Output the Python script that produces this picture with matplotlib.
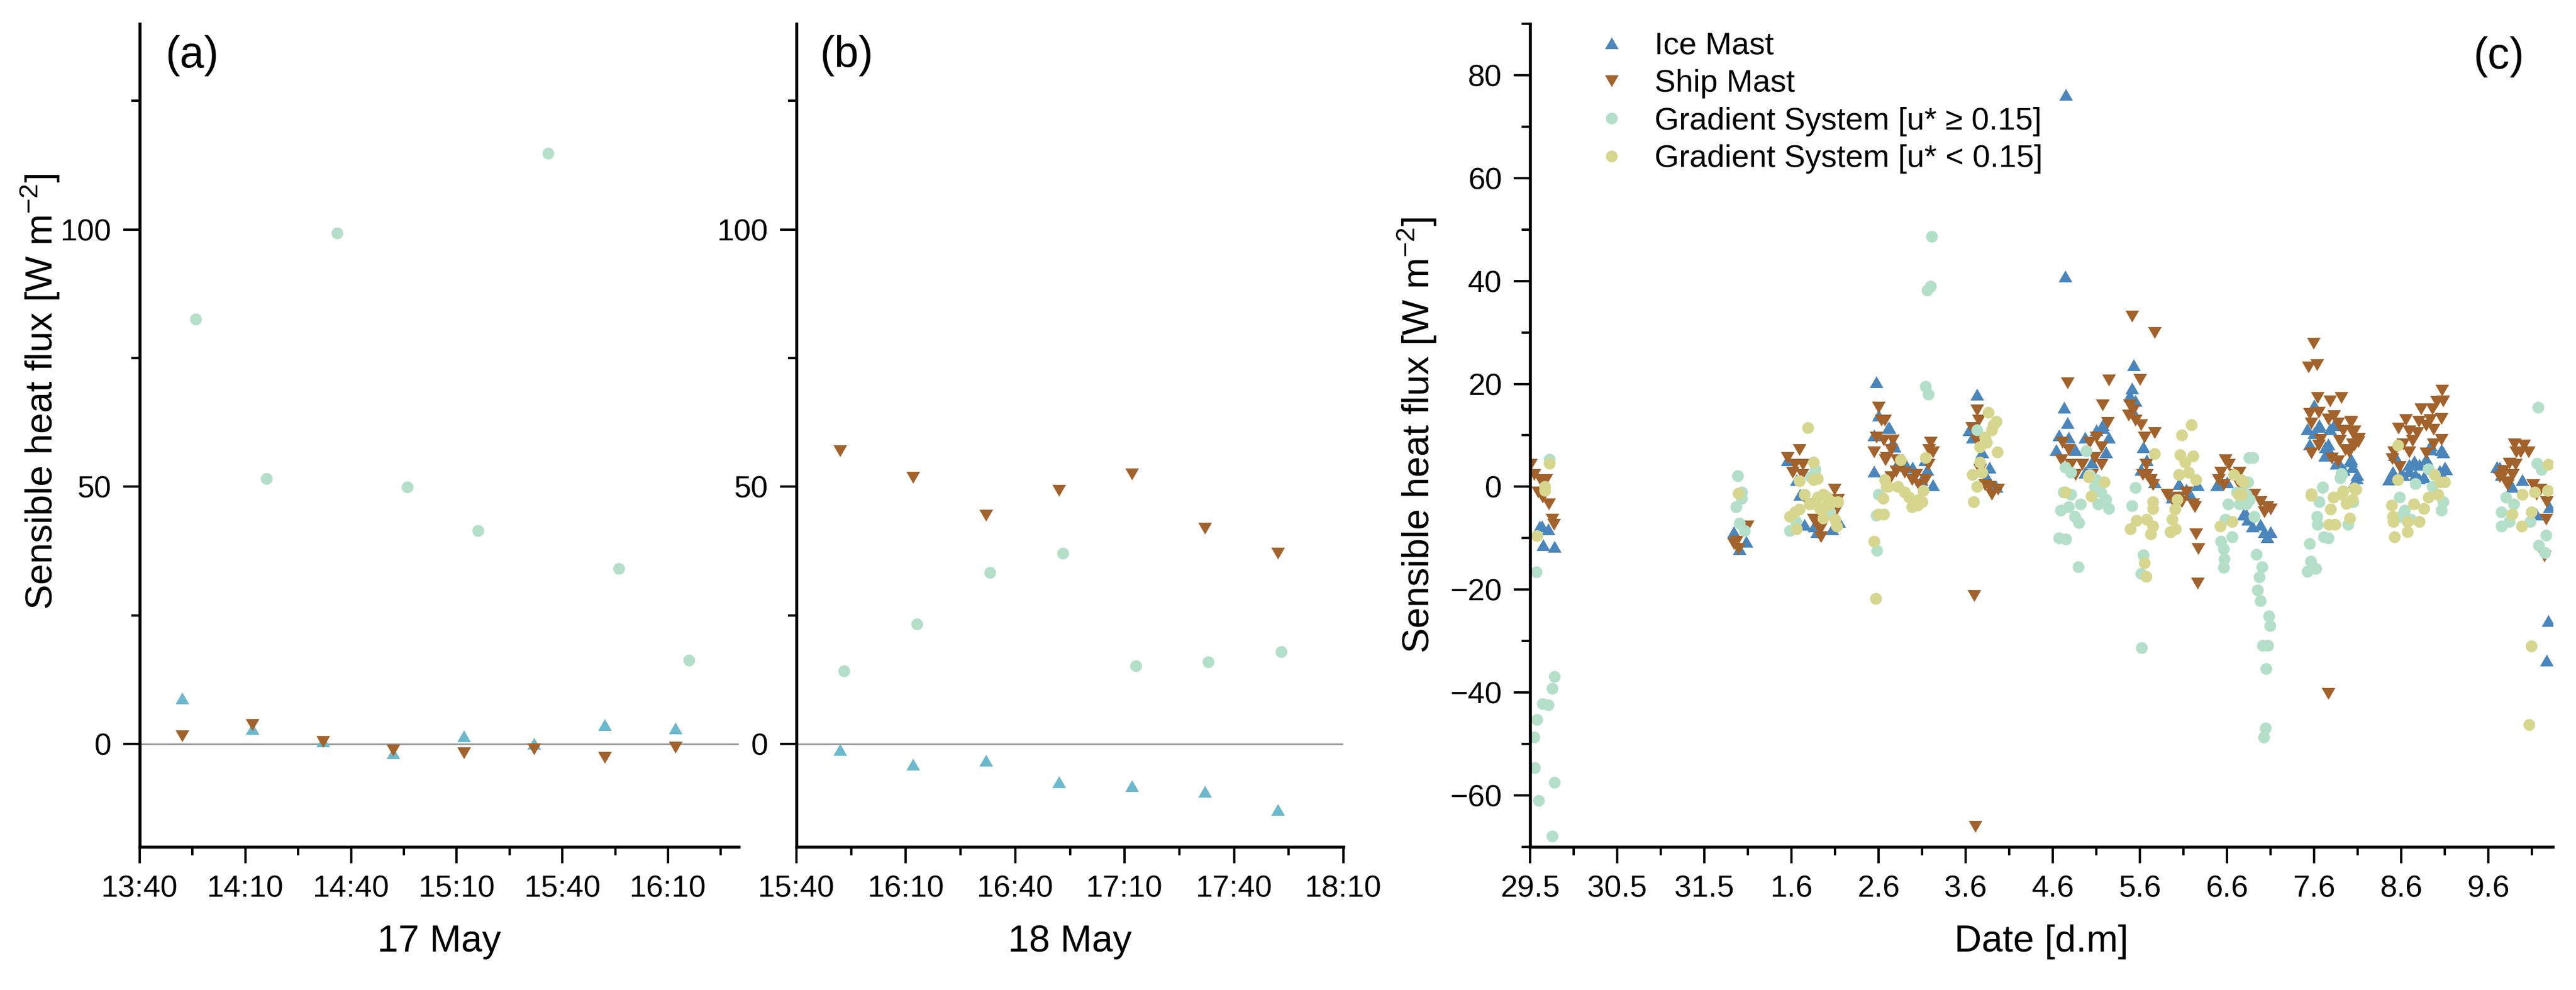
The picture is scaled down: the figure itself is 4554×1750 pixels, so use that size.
import matplotlib
matplotlib.use("Agg")
import matplotlib.pyplot as plt
import matplotlib.dates as mdates
from matplotlib.path import Path
from matplotlib.ticker import MultipleLocator, FixedLocator
from datetime import datetime

plt.rcParams['font.family'] = ['Liberation Sans', 'DejaVu Sans']
plt.rcParams['mathtext.fontset'] = 'custom'
plt.rcParams['mathtext.rm'] = 'Liberation Sans'
plt.rcParams['mathtext.default'] = 'regular'

# (a) 17 May
a_mast_time = ["13:52", "14:12", "14:32", "14:52", "15:12", "15:32", "15:52", "16:12"]
a_ice = [8.9, 3.0, 0.6, -1.8, 1.6, 0.1, 3.8, 3.1]
a_ship = [1.5, 3.7, 0.4, -1.2, -1.8, -1.0, -2.6, -0.7]
a_grad_time = ["13:56", "14:16", "14:36", "14:56", "15:16", "15:36", "15:56", "16:16"]
a_grad = [82.6, 51.6, 99.3, 49.9, 41.5, 114.8, 34.1, 16.3]

# (b) 18 May
b_mast_time = ["15:52", "16:12", "16:32", "16:52", "17:12", "17:32", "17:52"]
b_ice = [-1.1, -4.0, -3.2, -7.4, -8.1, -9.2, -12.7]
b_ship = [57.0, 51.8, 44.4, 49.3, 52.5, 41.9, 37.1]
b_grad_time = ["15:53", "16:13", "16:33", "16:53", "17:13", "17:33", "17:53"]
b_grad = [14.2, 23.3, 33.3, 37.1, 15.2, 15.9, 17.9]

# (c) days since 29 May 00:00, flux
c_ice = [(0.11, -7.7), (0.135, -7.7), (0.21, -8.2), (0.15, -11.3), (0.28, -11.6),
         (2.34, -8.7), (2.48, -10.6), (2.40, -12.1),
         (2.955, 5.2), (3.06, 1.4), (3.10, -1.5), (3.15, -7.3), (3.26, -7.7), (3.465, -8.2), (3.545, -6.8), (3.29, -8.7),
         (3.976, 20.4), (3.95, 3.0), (4.0, 13.9), (4.12, 11.5), (3.95, 10.1), (4.16, 8.6), (4.11, 11.5), (4.18, 7.9),
         (4.24, 5.2), (4.31, 4.3), (4.39, 3.8), (4.53, 5.2), (4.56, 3.3), (4.62, 0.4), (4.49, 1.4),
         (5.13, 18.0), (5.04, 11.0), (5.08, 9.6), (5.19, 6.7), (5.27, 3.8), (5.35, 0.0), (5.24, 1.9),
         (6.15, 76.3), (6.14, 40.9), (6.13, 15.4), (6.17, 12.5), (6.07, 10.1), (6.04, 7.2), (6.18, 9.6), (6.26, 7.2),
         (6.37, 9.6), (6.50, 11.0), (6.57, 11.5), (6.64, 9.6), (6.61, 6.7), (6.45, 4.8), (6.37, 2.8), (6.57, 12.0),
         (6.93, 23.7), (6.91, 19.2), (6.88, 17.8), (6.95, 16.8), (6.93, 14.4), (7.04, 7.7), (7.08, 5.2), (7.01, 3.3), (7.17, 0.9),
         (7.45, 0.6), (7.53, -0.5), (7.66, 0.4), (7.58, -1.5), (7.37, -2.0),
         (7.88, 0.4), (8.0, 0.9), (8.22, -5.3), (8.24, -6.3), (8.19, -5.3), (8.29, -7.7), (8.38, -7.3), (8.43, -8.7),
         (8.50, -8.7), (8.46, -9.7),
         (9.0, 15.9), (8.924, 11.3), (9.05, 11.7), (9.226, 12.0), (8.945, 8.3), (9.16, 8.3), (9.12, 6.1), (9.25, 4.6),
         (9.42, 5.4), (9.44, 3.9), (9.485, 1.7), (9.18, 11.3), (9.0, 10.5), (9.42, 5.0), (9.49, 2.4), (9.46, 0.9),
         (9.06, 12.0), (9.13, 7.7), (9.20, 6.2), (9.28, 4.8), (9.34, 3.3),
         (9.89, 2.4), (9.99, 2.4), (10.09, 4.3), (10.21, 4.3), (10.26, 1.9), (10.34, 8.1), (10.46, 7.2), (10.50, 3.8),
         (9.92, 6.2), (10.16, 2.4), (9.90, 2.9), (9.86, 1.5), (10.09, 3.1), (10.20, 1.7), (10.285, 5.4), (10.34, 7.3),
         (10.48, 6.8), (10.51, 3.5), (10.44, 3.1), (10.15, 5.0), (10.02, 2.4),
         (11.13, 3.8), (11.10, 3.9), (11.15, 2.4), (11.27, 0.0), (11.39, 1.4), (11.55, -5.3), (11.70, -3.9),
         (11.69, -26.0), (11.67, -33.7)]

c_ship = [(0.008, 4.3), (0.048, 2.4), (0.115, 1.4), (0.183, 1.4), (0.089, -1.0), (0.143, -2.0), (0.215, -3.4), (0.25, -6.3), (0.27, -7.3),
          (2.37, -10.6), (2.39, -12.1), (2.49, -7.6), (2.34, -11.1),
          (2.955, 5.7), (3.04, 4.3), (3.09, 7.2), (3.13, 4.3), (3.01, 2.8), (3.12, 2.4), (3.196, -3.4), (3.25, -6.3),
          (3.34, -9.7), (3.33, -8.2), (3.49, -0.5), (3.52, -4.4), (3.44, -5.3), (3.29, -7.3), (3.53, -2.5),
          (4.0, 15.4), (4.03, 12.9), (3.976, 9.6), (4.06, 9.1), (3.95, 6.7), (4.09, 5.7), (4.14, 1.9), (4.16, 9.1),
          (4.07, 12.9), (4.14, 7.2), (4.08, 5.2), (4.21, 5.2), (4.30, 2.8), (4.38, 1.4), (4.43, 2.4), (4.46, 0.4),
          (4.54, 1.4), (4.594, 8.6), (4.62, 6.7), (4.57, 4.3), (4.58, 7.2), (4.20, 3.0), (4.25, 4.0),
          (5.13, 14.9), (5.15, 12.9), (5.07, 11.5), (5.12, 9.1), (5.16, 3.3), (5.22, 0.4), (5.30, -1.5), (5.37, -0.5),
          (5.27, 0.0), (5.10, -21.2), (5.11, -66.0),
          (6.17, 20.2), (6.64, 20.7), (6.57, 15.9), (6.63, 12.5), (6.11, 8.6), (6.18, 7.2), (6.10, 5.2), (6.21, 4.3),
          (6.26, 2.4), (6.34, 4.3), (6.42, 8.6), (6.50, 9.6), (6.56, 7.7), (6.48, 5.7), (6.56, 4.3), (6.45, 2.4),
          (6.91, 33.2), (7.17, 30.0), (7.0, 20.8), (6.88, 15.9), (6.92, 14.9), (6.87, 13.9), (6.95, 12.9), (7.01, 12.0),
          (7.05, 9.6), (7.17, 10.5), (7.03, 2.4), (7.08, 2.4), (7.12, 1.4), (7.15, 0.4), (7.07, 4.3),
          (7.31, -1.5), (7.37, -2.5), (7.45, -2.0), (7.53, -1.0), (7.61, -3.4), (7.63, -3.9), (7.64, -9.2), (7.67, -12.1),
          (7.66, -18.8), (7.48, -2.9),
          (7.93, 2.8), (7.98, 5.2), (8.02, 4.3), (7.90, 1.4), (8.09, 2.4), (8.14, 0.4), (7.96, 0.4), (8.144, 2.8),
          (8.31, -1.5), (8.38, -2.9), (8.46, -3.9), (8.50, -4.4), (8.43, -4.9),
          (8.992, 27.9), (8.934, 23.3), (9.031, 23.7), (9.04, 17.3), (9.18, 16.6), (9.312, 17.3), (8.945, 14.2),
          (9.05, 14.4), (9.226, 13.8), (8.966, 12.4), (9.16, 13.1), (9.27, 12.4), (9.42, 12.5), (9.33, 10.9),
          (9.44, 10.5), (9.07, 9.2), (9.05, 8.1), (8.966, 6.5), (9.204, 5.5), (9.27, 5.0), (9.355, 7.2), (9.46, 8.1),
          (9.507, 8.7), (9.29, 9.0), (9.42, 12.65), (9.46, 10.8), (9.51, 9.4), (9.44, 8.3), (9.40, 6.8), (9.16, -40.2),
          (10.47, 18.7), (10.48, 16.7), (10.41, 16.5), (10.23, 15.1), (10.36, 15.1), (10.05, 13.0), (9.97, 11.4),
          (10.33, 13.0), (10.46, 13.2), (10.20, 12.65), (10.285, 11.9), (10.09, 10.8), (10.18, 10.5), (10.37, 11.2),
          (10.46, 9.2), (9.918, 6.8), (10.02, 8.3), (10.09, 6.8), (9.896, 5.4), (9.98, 3.9), (10.285, 6.5),
          (10.37, 8.3), (10.13, 9.0),
          (11.41, 8.1), (11.46, 6.7), (11.37, 6.7), (11.31, 4.3), (11.27, 2.4), (11.17, 2.4), (11.13, 1.9), (11.22, 0.4),
          (11.17, 3.1), (11.24, 4.6), (11.28, 2.4), (11.32, 6.8), (11.30, 8.3), (11.20, 0.9),
          (11.51, 0.4), (11.60, -0.5), (11.55, -1.5), (11.67, -2.9), (11.66, -6.3), (11.64, -13.5)]

c_grad_hi = [(0.22, 5.3), (0.07, -16.6), (0.28, -36.9), (0.25, -39.2), (0.14, -42.2), (0.21, -42.4), (0.08, -45.3),
             (0.047, -48.7), (0.05, -54.6), (0.10, -61.0), (0.28, -57.5), (0.25, -67.9),
             (2.38, 2.1), (2.43, -1.0), (2.36, -3.9), (2.40, -7.1), (2.46, -8.5), (2.43, -2.3),
             (2.98, -8.5), (3.05, -6.8), (3.22, 1.9), (3.27, 3.3), (3.44, -4.9),
             (4.0, -1.5), (3.976, -5.6), (3.98, -12.4), (4.61, 48.6), (4.594, 39.0), (4.56, 38.2), (4.54, 19.5), (4.57, 18.0),
             (5.13, 11.0),
             (6.38, 7.0), (6.14, 3.8), (6.21, 2.8), (6.12, -1.0), (6.21, -1.5), (6.09, -4.6), (6.18, -3.9), (6.32, -3.4),
             (6.25, -5.8), (6.30, -7.0), (6.07, -10.0), (6.15, -10.2), (6.29, -15.6), (6.42, 2.4), (6.50, 1.4),
             (6.48, 0.0), (6.55, -1.0), (6.61, -2.5), (6.52, -3.4), (6.64, -4.2),
             (6.95, -0.2), (6.91, -3.7), (7.04, -13.3), (7.01, -16.9), (7.02, -31.3), (7.35, -8.7),
             (8.25, 5.7), (8.01, -3.4), (7.98, -6.3), (7.93, -10.6), (7.96, -12.1), (7.97, -14.0), (7.96, -15.7),
             (8.06, -9.7), (8.14, -3.4), (8.22, -1.5), (8.11, -1.0), (8.30, 5.7), (8.24, 0.9), (8.19, -1.0), (8.26, -2.5),
             (8.31, -5.8), (8.34, -13.2), (8.40, -15.6), (8.37, -17.6), (8.35, -20.1), (8.38, -22.2), (8.48, -25.1),
             (8.49, -27.0), (8.41, -30.9), (8.47, -30.9), (8.45, -35.4), (8.44, -46.9), (8.42, -48.7), (8.22, -3.4),
             (9.31, 2.6), (9.30, 1.7), (9.10, -0.1),
             (9.32, 2.4), (9.10, -0.2), (9.06, -2.9), (9.03, -5.8), (9.04, -7.3), (9.11, -9.7), (9.16, -10.0),
             (8.95, -11.1), (8.96, -14.5), (9.02, -15.9), (8.92, -16.4), (9.39, -7.3), (9.45, -2.9),
             (10.31, 3.5), (10.16, 0.6), (9.98, -2.0), (10.04, -4.6), (9.99, -5.8), (10.36, 0.0), (10.48, -2.9),
             (10.46, -4.6), (10.11, -6.3),
             (11.57, 15.4), (11.56, 4.5), (11.61, 3.3), (11.20, -2.0), (11.29, -3.4), (11.15, -4.9), (11.24, -6.8),
             (11.48, -6.8), (11.66, -9.4), (11.58, -11.4), (11.65, -12.8), (11.15, -7.6)]

c_grad_lo = [(0.22, 4.6), (0.17, 0.0), (0.17, -0.7), (0.08, -9.5),
             (2.39, -1.3),
             (3.19, 11.5), (3.25, 4.8), (3.09, 1.1), (3.25, 1.4), (3.30, 1.6), (3.15, -1.5), (3.21, -3.4), (3.30, -2.0),
             (3.36, -1.5), (3.41, -2.0), (3.465, -2.9), (3.53, -2.9), (3.33, -4.4), (3.38, -3.9), (3.04, -4.9),
             (3.09, -4.4), (2.98, -5.8), (3.06, -8.2), (3.36, -6.1), (3.50, -6.3), (3.52, -7.6), (3.44, -3.4), (3.27, -3.4),
             (4.05, -2.3), (4.0, -5.3), (3.95, -10.6), (3.97, -21.7), (4.09, 0.0), (4.25, 5.2), (4.07, 1.4), (4.11, 0.0),
             (4.22, 0.0), (4.30, -1.0), (4.35, -2.0), (4.40, -2.9), (4.46, -2.5), (4.50, -2.9), (4.54, 5.7), (4.51, -0.7),
             (4.38, -3.9), (4.056, -5.3), (4.45, -3.6),
             (5.26, 14.4), (5.35, 12.7), (5.30, 11.0), (5.22, 9.6), (5.16, 7.7), (5.36, 6.7), (5.24, 8.6), (5.16, 4.8),
             (5.08, 2.4), (5.19, 2.8), (5.13, 0.0), (5.09, -2.9), (5.32, 12.0),
             (6.41, 1.9), (6.59, 0.9), (6.44, -1.8), (6.14, -1.0),
             (7.17, 6.4), (7.15, -2.9), (7.15, -4.2), (7.08, -6.3), (6.96, -6.5), (6.89, -8.2), (7.15, -7.6), (7.12, -9.2),
             (7.05, -14.8), (7.07, -17.4),
             (7.48, 10.1), (7.59, 12.0), (7.46, 6.2), (7.61, 6.0), (7.52, 4.8), (7.45, 2.4), (7.56, 2.8), (7.64, 1.4),
             (7.43, -2.5), (7.40, -4.4), (7.37, -6.3), (7.41, -8.2), (7.35, -8.7),
             (8.08, 2.4), (8.13, -1.5), (8.06, -6.8), (7.92, -7.6), (8.19, 0.9), (8.16, 1.4), (8.17, -1.5),
             (9.46, -0.3), (8.966, -1.4), (9.33, -0.8),
             (8.97, -1.7), (9.19, -4.4), (9.24, -7.3), (9.41, -6.1), (9.22, -2.0), (9.32, -1.5), (9.37, -3.2),
             (9.44, -2.5), (9.48, -0.5), (9.17, -7.3),
             (9.96, 8.1), (9.96, 1.4), (9.89, -3.6), (9.90, -5.8), (9.91, -6.8), (9.92, -9.7), (10.07, -6.8),
             (10.14, -3.4), (10.21, -6.8), (10.26, -4.2), (10.31, -2.0), (10.42, -1.5), (10.45, 0.9), (10.50, 0.9),
             (10.38, 2.4), (10.07, -8.7),
             (11.69, 4.3), (11.68, -0.7), (11.39, -1.5), (11.53, -1.0), (11.27, -5.3), (11.38, -7.6), (11.49, -4.9),
             (11.49, -31.0), (11.47, -46.3)]

c_tick_labels = ["29.5", "30.5", "31.5", "1.6", "2.6", "3.6", "4.6", "5.6", "6.6", "7.6", "8.6", "9.6"]

ice_ab = "#6cb8cc"
ice_c = "#4a86bb"
ship_col = "#a2622b"
grad_hi_col = "#b3dfc9"
grad_lo_col = "#d6d68e"
ms_tri = 5.8
ms_dot = 5.0
ylab = "Sensible heat flux [W m$^{-2}$]"

# equilateral triangles, like Origin draws them
tri_up = Path([(0, 0.5), (-0.577, -0.5), (0.577, -0.5), (0, 0.5)], closed=True)
tri_down = Path([(0, -0.5), (-0.577, 0.5), (0.577, 0.5), (0, -0.5)], closed=True)


def tt(day, s):
    return datetime.strptime(day + " " + s, "%Y-%m-%d %H:%M")


def style(ax):
    for s in ["top", "right"]:
        ax.spines[s].set_visible(False)
    for s in ["left", "bottom"]:
        ax.spines[s].set_linewidth(1.3)
    ax.tick_params(which="major", direction="out", length=7, width=1.0, labelsize=13, pad=5)
    ax.tick_params(which="minor", direction="out", length=3.5, width=1.0)


fig = plt.figure(figsize=(4554 / 300, 1750 / 300), dpi=300)
ax_a = fig.add_axes([0.0542, 0.1446, 0.2325, 0.8314])
ax_b = fig.add_axes([0.3092, 0.1446, 0.2123, 0.8314])
ax_c = fig.add_axes([0.5940, 0.1446, 0.3970, 0.8314])

panels = [
    (ax_a, "2020-05-17", "13:40", "16:30", a_mast_time, a_ice, a_ship, a_grad_time, a_grad, "17 May", "(a)"),
    (ax_b, "2020-05-18", "15:40", "18:10", b_mast_time, b_ice, b_ship, b_grad_time, b_grad, "18 May", "(b)"),
]
for ax, day, t0, t1, mt, ice, ship, gt, grad, xl, tag in panels:
    ax.axhline(0, color="#8c8c8c", lw=0.6, zorder=0)
    ax.plot([tt(day, s) for s in mt], ice, ls="none", marker=tri_up, color=ice_ab, ms=ms_tri, mew=0)
    ax.plot([tt(day, s) for s in mt], ship, ls="none", marker=tri_down, color=ship_col, ms=ms_tri, mew=0)
    ax.plot([tt(day, s) for s in gt], grad, "o", color=grad_hi_col, ms=ms_dot, mew=0)
    ax.set_xlim(tt(day, t0), tt(day, t1))
    ax.set_ylim(-20, 140)
    ax.yaxis.set_major_locator(FixedLocator([0, 50, 100]))
    ax.yaxis.set_minor_locator(FixedLocator([25, 75, 125]))
    ax.xaxis.set_major_locator(mdates.MinuteLocator(byminute=[10, 40]))
    ax.xaxis.set_minor_locator(mdates.MinuteLocator(byminute=[25, 55]))
    ax.xaxis.set_major_formatter(mdates.DateFormatter("%H:%M"))
    style(ax)
    ax.set_xlabel(xl, fontsize=16, labelpad=9)
    ax.text(0.043, 0.9615, tag, transform=ax.transAxes, fontsize=18.5, va="center", ha="left")

ax_a.set_ylabel(ylab, fontsize=16)
ax_a.yaxis.set_label_coords(-0.130, 0.553)

ax_c.plot([p[0] for p in c_ice], [p[1] for p in c_ice], ls="none", marker=tri_up, color=ice_c, ms=ms_tri, mew=0,
          label="Ice Mast")
ax_c.plot([p[0] for p in c_ship], [p[1] for p in c_ship], ls="none", marker=tri_down, color=ship_col, ms=ms_tri,
          mew=0, label="Ship Mast")
ax_c.plot([p[0] for p in c_grad_hi], [p[1] for p in c_grad_hi], "o", color=grad_hi_col, ms=ms_dot, mew=0,
          label="Gradient System [u* \u2265 0.15]")
ax_c.plot([p[0] for p in c_grad_lo], [p[1] for p in c_grad_lo], "o", color=grad_lo_col, ms=ms_dot, mew=0,
          label="Gradient System [u* < 0.15]")
ax_c.set_xlim(0, 11.74)
ax_c.set_ylim(-70, 90)
ax_c.xaxis.set_major_locator(FixedLocator(list(range(len(c_tick_labels)))))
ax_c.set_xticklabels(c_tick_labels)
ax_c.xaxis.set_minor_locator(MultipleLocator(0.5))
ax_c.yaxis.set_major_locator(MultipleLocator(20))
ax_c.yaxis.set_minor_locator(MultipleLocator(10))
style(ax_c)
ax_c.set_xlabel("Date [d.m]", fontsize=16, labelpad=9)
ax_c.set_ylabel(ylab, fontsize=16)
ax_c.yaxis.set_label_coords(-0.0896, 0.5)
ax_c.text(0.972, 0.96, "(c)", transform=ax_c.transAxes, fontsize=18.5, va="center", ha="right")
ax_c.legend(loc="upper left", bbox_to_anchor=(0.052, 1.006), frameon=False, fontsize=13.4,
            handlelength=1.0, handletextpad=0.86, labelspacing=0.26, borderpad=0.4,
            borderaxespad=0, numpoints=1)

fig.savefig("out.png", dpi=300)
